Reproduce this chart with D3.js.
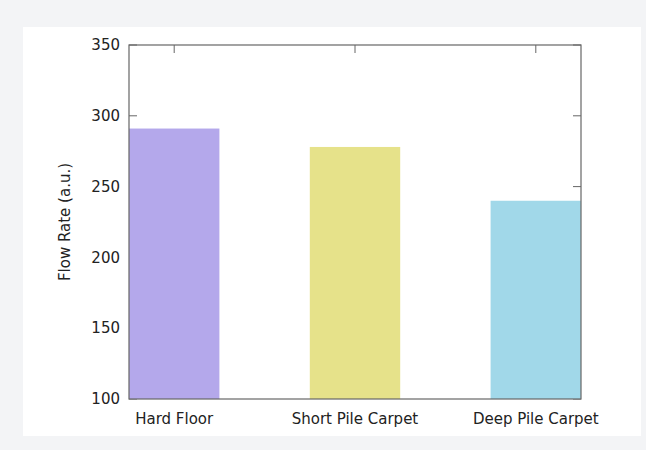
<!DOCTYPE html>
<html>
<head>
<meta charset="utf-8">
<script src="https://cdn.jsdelivr.net/npm/d3@7"></script>
<style>
  body { margin: 0; background: #f3f4f6; }
  #chart { position: absolute; left: 0; top: 0; }
  .tick-label { font-family: "DejaVu Sans", sans-serif; font-size: 15px; fill: #222; }
  .axis-label { font-family: "DejaVu Sans", sans-serif; font-size: 15px; fill: #222; }
</style>
</head>
<body>
<div id="chart"></div>
<script>
const categories = ['Hard Floor', 'Short Pile Carpet', 'Deep Pile Carpet'];
const values = [291, 278, 240];
const colors = ['#b4a8eb', '#e6e28a', '#a1d8e9'];
const yTicks = [100, 150, 200, 250, 300, 350];

const W = 646, H = 450;
const margin = {top: 45, right: 65, bottom: 51, left: 129};
const width = W - margin.left - margin.right;
const height = H - margin.top - margin.bottom;

const svg = d3.select("#chart")
    .append("svg")
    .attr("width", W)
    .attr("height", H);

// white panel
svg.append("rect")
    .attr("x", 23).attr("y", 27)
    .attr("width", 618).attr("height", 409)
    .attr("fill", "#fff");

const g = svg.append("g")
    .attr("transform", `translate(${margin.left},${margin.top})`);

const x = d3.scaleLinear()
    .domain([-0.25, categories.length - 0.75])
    .range([0, width]);

const y = d3.scaleLinear()
    .domain([100, 350])
    .range([height, 0]);

const axisColor = "#666";
const tickLen = 8;

// y ticks, both sides, pointing inward
yTicks.forEach(t => {
    g.append("line")
        .attr("x1", 0).attr("x2", tickLen)
        .attr("y1", y(t)).attr("y2", y(t))
        .attr("stroke", axisColor);
    g.append("line")
        .attr("x1", width - tickLen).attr("x2", width)
        .attr("y1", y(t)).attr("y2", y(t))
        .attr("stroke", axisColor);
    g.append("text")
        .attr("class", "tick-label")
        .attr("x", -9)
        .attr("y", y(t))
        .attr("dy", "0.35em")
        .attr("text-anchor", "end")
        .text(t);
});

// x ticks, top and bottom
categories.forEach((c, i) => {
    g.append("line")
        .attr("x1", x(i)).attr("x2", x(i))
        .attr("y1", 0).attr("y2", tickLen)
        .attr("stroke", axisColor);
    g.append("line")
        .attr("x1", x(i)).attr("x2", x(i))
        .attr("y1", height - tickLen).attr("y2", height)
        .attr("stroke", axisColor);
    g.append("text")
        .attr("class", "axis-label")
        .attr("x", x(i))
        .attr("y", height + 20)
        .attr("dy", "0.35em")
        .attr("text-anchor", "middle")
        .text(c);
});

// bars drawn over the ticks
g.selectAll(".bar")
    .data(values)
    .enter()
    .append("rect")
    .attr("class", "bar")
    .attr("x", (d, i) => x(i - 0.25))
    .attr("y", d => y(d))
    .attr("width", x(0.25) - x(-0.25))
    .attr("height", d => height - y(d))
    .attr("fill", (d, i) => colors[i]);

// frame
g.append("rect")
    .attr("x", 0).attr("y", 0)
    .attr("width", width).attr("height", height)
    .attr("fill", "none")
    .attr("stroke", axisColor)
    .attr("stroke-width", 1.2);

g.append("text")
    .attr("class", "axis-label")
    .attr("text-anchor", "middle")
    .attr("transform", "rotate(-90)")
    .attr("x", -(y(200) + y(250)) / 2)
    .attr("y", -64)
    .attr("dy", "0.35em")
    .text("Flow Rate (a.u.)");
</script>
</body>
</html>
